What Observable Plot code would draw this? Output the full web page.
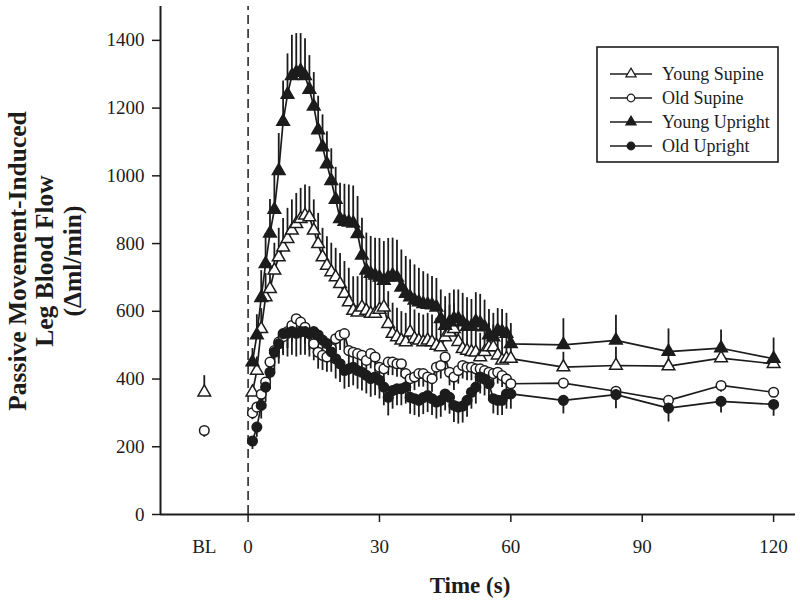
<!DOCTYPE html>
<html><head><meta charset="utf-8">
<script src="https://cdn.jsdelivr.net/npm/d3@7"></script>
<script src="https://cdn.jsdelivr.net/npm/@observablehq/plot@0.6"></script>
<style>
body{margin:0;background:#fff;}
#chart{position:relative;width:800px;height:602px;}
</style></head><body><div id="chart"></div>
<script>
// time points (s)
const times = [1,2,3,4,5,6,7,8,9,10,11,12,13,14,15,16,17,18,19,20,21,22,23,24,25,26,27,28,29,30,
  31,32,33,34,35,36,37,38,39,40,41,42,43,44,45,46,47,48,49,50,51,52,53,54,55,56,57,58,59,60,
  72,84,96,108,120];

const youngSupine = [361,425,548,642,666,721,760,789,814,839,858,873,883,878,839,799,760,735,716,701,
  681,652,627,602,597,612,602,593,593,605,612,563,534,524,514,509,538,519,514,509,
  514,509,499,494,524,538,548,510,489,484,480,479,465,480,494,494,470,455,460,460,
  435,440,438,462,445];
const youngSupineSE = [20,40,60,70,75,80,85,85,90,90,90,90,90,90,90,90,85,85,85,85,
  90,95,100,100,105,105,105,110,110,105,100,95,90,85,85,85,85,85,80,80,
  80,80,80,80,80,80,75,75,75,75,75,75,70,70,70,65,65,65,60,60,
  44,54,35,15,20];

const oldSupine = [300,317,355,391,450,484,509,525,540,558,578,568,553,534,504,479,470,465,490,519,
  529,534,484,479,475,470,455,475,465,435,430,450,450,445,445,416,401,406,416,416,
  406,401,435,440,465,420,406,425,440,435,435,430,430,425,420,416,420,410,400,386,
  388,364,337,381,361];
const oldSupineSE = [20,25,30,35,40,45,50,50,50,50,50,50,50,50,50,50,45,45,45,45,
  45,45,45,45,45,45,45,45,45,45,40,40,40,40,40,40,40,40,40,40,
  40,40,40,40,40,40,40,40,40,40,40,40,40,40,40,35,35,35,35,35,
  8,10,8,20,8];

const youngUpright = [450,530,640,740,830,900,1015,1160,1240,1295,1305,1310,1295,1255,1205,1135,1085,1035,985,930,
  873,865,863,860,829,765,721,711,706,700,691,700,706,700,671,652,642,632,627,622,
  620,618,612,578,558,568,578,578,568,555,555,570,565,553,530,524,543,540,534,504,
  501,514,481,491,460];
const youngUprightSE = [40,60,80,90,100,110,110,120,120,120,115,110,110,100,100,100,95,95,95,95,
  105,110,110,110,110,110,110,110,110,115,115,115,110,110,110,110,110,105,100,95,
  90,85,85,85,85,85,85,85,85,85,80,85,85,80,75,70,65,65,60,60,
  77,74,67,54,61];

const oldUpright = [217,258,322,376,420,479,504,534,535,540,535,540,540,535,540,530,515,505,480,460,
  445,425,430,435,425,420,411,401,406,396,376,346,366,371,371,376,346,342,337,345,
  351,342,332,337,356,346,322,317,320,337,361,376,406,400,386,342,337,337,356,356,
  337,354,314,334,325];
const oldUprightSE = [25,30,40,45,50,55,60,65,70,70,70,70,70,70,65,65,60,60,60,60,
  55,55,55,55,55,55,55,55,55,55,55,55,55,50,50,50,50,50,50,50,
  50,50,50,50,50,50,50,50,50,50,50,50,50,50,50,45,45,45,45,45,
  40,42,41,34,35];

// baseline (BL)
const blTime = -10;
const blYoungSupine = 361, blYoungSupineSE = 49;
const blOldSupine = 248, blOldSupineSE = 20;

const yTicks = [0,200,400,600,800,1000,1200,1400];
const xTicks = [0,30,60,90,120];
const xLabelValues = [-10,0,30,60,90,120];
const xLabelTexts = ["BL","0","30","60","90","120"];
const seriesNames = ["Young Supine","Old Supine","Young Upright","Old Upright"];

const INK = "#1c1c1c";
const series = [
  {name: seriesNames[0], values: youngSupine, se: youngSupineSE, dir: 1, symbol: "triangle", fill: "white", r: 4.7},
  {name: seriesNames[1], values: oldSupine, se: oldSupineSE, dir: -1, symbol: "circle", fill: "white", r: 4.8},
  {name: seriesNames[2], values: youngUpright, se: youngUprightSE, dir: 1, symbol: "triangle", fill: INK, r: 4.7},
  {name: seriesNames[3], values: oldUpright, se: oldUprightSE, dir: -1, symbol: "circle", fill: INK, r: 4.8}
];
const rowsOf = s => s.values.map((v, i) => ({series: s.name, t: times[i], v, se: s.se[i], dir: s.dir}));
const allRows = series.flatMap(rowsOf);
const blRows = [
  {series: seriesNames[0], t: blTime, v: blYoungSupine, se: blYoungSupineSE, dir: 1},
  {series: seriesNames[1], t: blTime, v: blOldSupine, se: blOldSupineSE, dir: -1}
];

const serif = "'Liberation Serif', 'Times New Roman', serif";

const plot = Plot.plot({
  width: 800, height: 602,
  marginLeft: 160, marginRight: 5, marginTop: 6, marginBottom: 88,
  x: {domain: [-20, 125]},
  y: {domain: [0, 1500]},
  style: {fontFamily: serif, fontSize: "19px", color: INK, background: "white"},
  marks: [
    Plot.ruleX([0], {y1: 0, y2: 1500, stroke: INK, strokeWidth: 1.5, strokeDasharray: "9,5"}),
    Plot.ruleX([...allRows, ...blRows], {x: "t", y1: "v", y2: d => d.v + d.dir * d.se, stroke: INK, strokeWidth: 1.8}),
    Plot.line(allRows, {x: "t", y: "v", z: "series", stroke: INK, strokeWidth: 1.7}),
    ...series.map(s => Plot.dot([...rowsOf(s), ...blRows.filter(b => b.series === s.name)],
      {x: "t", y: "v", symbol: s.symbol, r: s.r, fill: s.fill, stroke: INK, strokeWidth: 1.5})),
    Plot.axisY({ticks: yTicks, tickSize: 8, tickPadding: 8, label: null, fontSize: 19, strokeWidth: 1.5, tickFormat: d => String(d)}),
    Plot.axisX({ticks: xTicks, tickSize: 8, label: null, text: null, strokeWidth: 1.5}),
    Plot.axisX({ticks: xLabelValues, tickSize: 0, tickPadding: 25, label: null, fontSize: 19,
      tickFormat: d => xLabelTexts[xLabelValues.indexOf(d)]}),
    Plot.ruleX([-20], {y1: 0, y2: 1500, stroke: INK, strokeWidth: 2}),
    Plot.ruleY([0], {x1: -20, x2: 125, stroke: INK, strokeWidth: 2})
  ]
});
document.getElementById("chart").appendChild(plot);

const svg = d3.select(plot);
// axis titles
const yTitle = svg.append("g").attr("font-family", serif).attr("font-weight", "bold")
  .attr("font-size", 25.5).attr("fill", INK).attr("text-anchor", "middle");
["Passive Movement-Induced", "Leg Blood Flow", "(\u0394ml/min)"].forEach((txt, i) => {
  yTitle.append("text").attr("transform", `translate(${17 + i * 27.5},261) rotate(-90)`)
    .attr("dy", "0.35em").text(txt);
});
svg.append("text").attr("x", 470).attr("y", 585).attr("dy", "0.35em")
  .attr("text-anchor", "middle").attr("font-family", serif).attr("font-weight", "bold")
  .attr("font-size", 23).attr("fill", INK).text("Time (s)");

// legend
const lg = svg.append("g").attr("text-anchor", "start");
lg.append("rect").attr("x", 597).attr("y", 47).attr("width", 181).attr("height", 115)
  .attr("fill", "white").attr("stroke", INK).attr("stroke-width", 1.6);
series.forEach((s, i) => {
  const y = 74 + i * 24;
  lg.append("line").attr("x1", 610).attr("x2", 652).attr("y1", y).attr("y2", y)
    .attr("stroke", INK).attr("stroke-width", 1.5);
  const sym = s.symbol === "triangle" ? d3.symbolTriangle : d3.symbolCircle;
  lg.append("path").attr("d", d3.symbol(sym, Math.PI * 3.8 * 3.8)())
    .attr("transform", `translate(631,${y})`).attr("fill", s.fill)
    .attr("stroke", INK).attr("stroke-width", 1.2);
  lg.append("text").attr("x", 662).attr("y", y).attr("dy", "0.35em").attr("text-anchor", "start")
    .attr("font-family", serif).attr("font-size", 18).attr("fill", INK).text(s.name);
});
</script></body></html>
